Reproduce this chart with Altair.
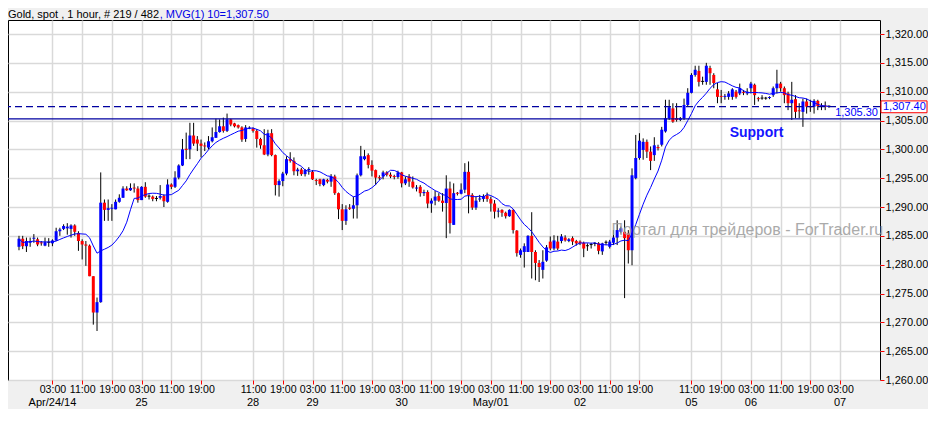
import altair as alt
import pandas as pd

# ---------------- data ----------------
FIRST_BAR = 2
opens = [1283.1,1284.5,1283.2,1283.8,1284.5,1284.4,1283.8,1283.3,1283.8,1283.7,
1284.2,1285.8,1286.2,1286.3,1286.2,1286.8,1285.5,1284.1,1283.5,1283.3,
1278.0,1271.7,1273.5,1290.75,1289.5,1289.7,1289.6,1290.9,1291.6,1293.2,
1292.9,1293.3,1293.2,1291.2,1293.5,1291.8,1291.8,1291.4,1291.6,1291.9,
1290.9,1293.9,1293.5,1295.1,1297.2,1300.1,1300.0,1302.4,1301.7,1301.0,
1300.6,1300.3,1301.4,1302.0,1303.0,1304.0,1303.2,1305.2,1304.5,1304.2,
1303.8,1301.8,1303.6,1303.6,1303.2,1301.8,1300.7,1299.1,1302.8,1299.0,
1293.8,1294.5,1295.8,1298.3,1298.0,1296.2,1296.5,1295.7,1296.4,1296.1,
1294.6,1294.8,1293.8,1294.7,1294.4,1295.3,1292.4,1289.6,1287.6,1289.9,
1289.7,1290.3,1295.5,1298.3,1299.0,1297.3,1296.4,1295.1,1295.3,1296.0,
1295.6,1295.3,1295.2,1296.0,1294.1,1295.3,1294.4,1293.2,1293.5,1292.4,
1292.6,1290.6,1291.1,1291.9,1291.1,1290.7,1293.2,1286.9,1292.4,1292.3,
1293.0,1296.1,1292.1,1289.9,1291.3,1291.4,1292.0,1291.4,1290.6,1289.2,
1289.5,1289.0,1288.4,1289.5,1285.9,1281.7,1282.2,1282.2,1285.0,1282.2,
1280.3,1279.1,1280.7,1284.0,1282.8,1284.0,1284.1,1284.7,1284.1,1284.6,
1284.1,1284.0,1283.8,1283.2,1283.4,1283.6,1283.7,1282.3,1283.8,1283.1,
1283.8,1284.7,1285.7,1285.7,1285.4,1282.5,1295.0,1298.5,1299.9,1301.3,
1299.6,1299.0,1300.4,1300.8,1303.1,1305.4,1307.1,1305.4,1305.1,1305.4,
1307.7,1309.8,1312.9,1313.6,1311.7,1311.7,1314.1,1312.9,1310.4,1309.2,
1309.1,1309.1,1309.1,1310.0,1309.7,1309.9,1309.7,1310.6,1311.2,1308.8,
1308.8,1308.8,1308.9,1309.4,1310.6,1311.4,1310.6,1309.7,1308.0,1308.7,
1306.7,1306.5,1308.3,1307.4,1307.4,1308.4,1307.5,1307.5,1307.4]
highs = [1285.0,1285.0,1284.7,1284.7,1285.3,1284.7,1284.1,1284.7,1284.6,1284.4,
1286.4,1286.4,1287.0,1287.2,1287.0,1287.0,1285.8,1284.4,1284.1,1283.5,
1278.0,1274.3,1296.0,1291.3,1291.3,1290.5,1291.3,1292.2,1293.6,1293.6,
1294.1,1294.1,1293.6,1293.6,1294.3,1292.2,1292.0,1291.9,1293.8,1292.2,
1294.8,1294.1,1296.2,1297.4,1301.8,1302.9,1304.6,1304.6,1302.3,1301.7,
1301.2,1302.3,1303.8,1305.3,1305.2,1305.5,1306.2,1305.3,1304.6,1304.3,
1304.0,1304.2,1304.0,1303.8,1303.5,1302.0,1303.5,1303.4,1303.5,1299.1,
1294.8,1296.1,1298.8,1299.5,1298.6,1296.8,1296.8,1296.6,1296.9,1296.4,
1294.9,1294.9,1294.9,1294.9,1295.7,1295.6,1292.5,1290.5,1290.3,1290.5,
1291.8,1295.8,1300.6,1299.9,1299.3,1298.1,1296.5,1295.5,1296.3,1296.2,
1296.0,1295.6,1296.3,1296.1,1295.3,1295.7,1295.3,1293.8,1293.8,1293.0,
1292.9,1291.5,1292.8,1292.4,1292.4,1295.5,1294.4,1294.1,1292.6,1294.1,
1297.6,1297.9,1292.4,1291.8,1292.1,1292.2,1292.5,1291.8,1291.2,1289.8,
1289.6,1289.2,1289.6,1289.6,1286.0,1282.8,1283.7,1285.1,1289.1,1282.5,
1280.8,1282.5,1283.4,1284.9,1285.1,1285.0,1285.3,1285.1,1284.6,1284.9,
1284.3,1284.2,1284.0,1283.7,1283.8,1283.9,1283.9,1283.8,1284.2,1284.3,
1286.0,1287.7,1286.6,1287.7,1286.0,1296.7,1302.5,1302.8,1301.9,1301.7,
1300.5,1302.1,1300.8,1303.9,1308.6,1308.6,1308.0,1308.0,1305.6,1308.8,
1310.6,1313.2,1314.5,1314.5,1312.6,1315.0,1314.5,1313.2,1311.5,1310.3,
1309.6,1310.1,1310.6,1310.3,1311.4,1310.3,1310.6,1311.7,1311.4,1309.1,
1309.4,1309.1,1309.2,1310.9,1313.8,1311.7,1310.9,1310.0,1311.7,1309.4,
1308.0,1308.8,1308.8,1308.6,1308.7,1308.6,1308.0,1308.3,1307.6]
lows = [1282.5,1282.7,1282.2,1283.1,1283.8,1283.2,1283.3,1283.2,1283.1,1283.2,
1284.1,1285.0,1286.0,1285.2,1284.7,1285.0,1282.4,1280.9,1279.8,1278.0,
1269.6,1268.5,1273.4,1287.6,1287.6,1287.6,1289.6,1290.75,1291.6,1292.8,
1292.8,1292.5,1290.75,1291.2,1291.6,1291.3,1291.0,1291.0,1291.3,1290.0,
1290.75,1293.1,1293.3,1294.8,1297.1,1298.3,1298.3,1300.6,1299.7,1298.6,
1299.7,1300.0,1301.2,1302.0,1302.9,1302.9,1303.0,1304.0,1303.8,1303.6,
1301.3,1301.3,1303.5,1302.9,1300.3,1300.1,1299.0,1298.8,1298.8,1292.0,
1291.8,1293.6,1295.5,1297.7,1295.5,1295.4,1295.4,1295.3,1295.6,1294.7,
1293.8,1293.6,1293.6,1294.1,1293.5,1292.1,1287.9,1286.0,1286.9,1289.5,
1288.0,1288.0,1295.3,1298.1,1296.7,1295.3,1293.8,1294.7,1294.8,1295.3,
1295.0,1294.8,1294.9,1293.4,1293.8,1293.5,1293.2,1292.7,1291.8,1291.9,
1289.8,1289.0,1290.3,1290.9,1289.2,1284.6,1285.4,1286.9,1292.0,1292.2,
1292.4,1288.9,1289.5,1289.5,1290.9,1290.9,1290.9,1289.2,1288.0,1288.2,
1288.3,1288.0,1288.3,1285.4,1281.4,1281.2,1279.5,1282.2,1277.6,1277.3,
1277.0,1277.6,1280.5,1282.5,1282.5,1282.5,1283.7,1284.0,1283.9,1283.4,
1283.3,1283.4,1281.3,1282.4,1282.8,1283.2,1281.8,1281.7,1283.4,1282.8,
1283.4,1283.4,1285.4,1274.2,1280.2,1279.9,1294.8,1298.2,1298.2,1298.5,
1296.4,1298.0,1299.8,1300.5,1302.9,1305.1,1304.6,1304.8,1304.9,1305.1,
1307.5,1309.7,1312.6,1310.9,1311.2,1311.2,1311.2,1310.6,1308.0,1308.0,
1308.6,1308.6,1308.6,1308.8,1309.4,1309.4,1309.4,1309.7,1307.7,1308.3,
1308.6,1308.6,1308.7,1309.1,1309.7,1310.0,1308.0,1306.8,1305.1,1305.4,
1305.4,1303.9,1306.2,1306.5,1306.2,1306.8,1306.8,1306.8,1307.2]
closes = [1284.5,1283.2,1284.1,1284.1,1284.6,1283.5,1283.7,1283.9,1283.8,1284.2,
1285.8,1286.1,1286.7,1286.6,1286.8,1285.7,1284.1,1283.5,1283.3,1278.0,
1271.7,1273.5,1290.75,1289.5,1289.8,1289.8,1290.9,1291.6,1293.2,1292.9,
1293.3,1293.2,1291.2,1293.5,1291.8,1291.8,1291.4,1291.4,1291.9,1291.0,
1293.9,1293.5,1295.1,1297.2,1300.0,1299.9,1302.4,1301.0,1301.0,1300.6,
1300.5,1301.4,1302.1,1303.0,1304.0,1303.2,1305.2,1304.3,1304.0,1303.8,
1301.7,1303.8,1303.7,1303.2,1301.8,1300.7,1299.1,1302.8,1299.0,1293.8,
1294.5,1295.8,1298.3,1298.0,1296.2,1296.5,1295.7,1296.4,1296.6,1294.8,
1294.5,1294.0,1294.8,1294.4,1295.3,1292.4,1289.6,1287.6,1289.6,1289.7,
1290.3,1295.5,1298.8,1298.8,1297.3,1296.3,1295.1,1295.0,1296.0,1295.6,
1295.3,1295.2,1296.0,1294.1,1294.8,1294.4,1293.4,1293.3,1292.4,1292.6,
1290.6,1291.1,1291.8,1291.1,1290.7,1293.2,1287.2,1292.4,1292.3,1293.0,
1296.1,1292.1,1289.9,1291.1,1291.4,1291.9,1291.4,1290.6,1289.2,1289.3,
1289.0,1288.4,1289.5,1286.0,1282.0,1282.5,1283.2,1285.0,1282.2,1280.3,
1279.6,1280.5,1283.0,1282.8,1284.2,1282.8,1284.9,1284.2,1284.4,1284.0,
1283.7,1283.7,1282.8,1283.2,1283.4,1283.6,1282.4,1283.7,1283.8,1284.0,
1284.7,1286.0,1286.3,1284.6,1282.5,1295.5,1298.5,1301.5,1301.3,1299.6,
1298.0,1300.7,1300.2,1303.4,1305.4,1307.3,1304.8,1305.1,1305.4,1307.7,
1309.8,1312.9,1313.8,1311.7,1311.7,1314.5,1313.2,1311.5,1309.1,1309.1,
1309.2,1309.7,1310.4,1309.1,1310.6,1309.8,1310.0,1311.4,1309.4,1308.7,
1308.8,1308.8,1309.0,1310.6,1311.4,1310.6,1309.4,1308.0,1308.6,1306.5,
1306.6,1308.3,1307.4,1307.3,1308.4,1307.5,1307.4,1307.4,1307.4]

tick_bars = [11, 19, 27, 35, 43, 51, 65, 73, 81, 89, 97, 105, 113, 121, 129,
             137, 145, 153, 161, 169, 183, 191, 199, 207, 215, 223]
tick_times = ["03:00", "11:00", "19:00", "03:00", "11:00", "19:00", "11:00", "19:00",
              "03:00", "11:00", "19:00", "03:00", "11:00", "19:00", "03:00", "11:00",
              "19:00", "03:00", "11:00", "19:00", "11:00", "19:00", "03:00", "11:00",
              "19:00", "03:00"]
date_bars = [11, 35, 65, 81, 105, 129, 153, 183, 199, 223]
date_labels = ["Apr/24/14", "25", "28", "29", "30", "May/01", "02", "05", "06", "07"]
price_ticks = [1260, 1265, 1270, 1275, 1280, 1285, 1290, 1295, 1300, 1305, 1310, 1315, 1320]

support_price = 1305.30
last_price = 1307.40

# ---------------- layout ----------------
W, H = 872, 360
FONT = "Liberation Sans"
BLUE = "#0000ff"
RED = "#ff0000"
NAVY = "#0000a0"
GRID = "#d9d9d9"

n = len(opens)
df = pd.DataFrame({
    "bar": list(range(FIRST_BAR, FIRST_BAR + n)),
    "open": opens, "high": highs, "low": lows, "close": closes,
})

xscale = alt.Scale(domain=[0.386, 232.4], nice=False, zero=False)
yscale = alt.Scale(domain=[1260.0, 1322.43], nice=False, zero=False)

times_js = "[" + ",".join("'%s'" % t for t in tick_times) + "]"
bars_js = "[" + ",".join(str(b) for b in tick_bars) + "]"

x_axis = alt.Axis(values=tick_bars, labelExpr=f"{times_js}[indexof({bars_js}, datum.value)]",
                  orient="bottom", grid=True, gridColor=GRID, gridWidth=1.5,
                  tickColor=RED, tickSize=4, tickWidth=1, domain=False,
                  labelFont=FONT, labelFontSize=10.6, labelColor="#000000",
                  labelPadding=0, labelOverlap=False, labelFlush=False, title=None)
y_axis = alt.Axis(values=price_ticks, format=",.2f", orient="right", grid=True,
                  gridColor=GRID, gridWidth=1.5, tickColor=RED, tickSize=4, tickWidth=1,
                  domain=False, labelFont=FONT, labelFontSize=11, labelColor="#000000",
                  labelPadding=1, labelOverlap=False, labelFlush=False, title=None)

X = alt.X("bar:Q", scale=xscale, axis=x_axis)
Y_low = alt.Y("low:Q", scale=yscale, axis=y_axis)

base = alt.Chart(df)

wicks = base.mark_rule(color="#000000", strokeWidth=1).encode(
    x=X, y=Y_low, y2="high:Q")

bodies = base.transform_calculate(
    dir="datum.close > datum.open + 0.05 ? 'up' : (datum.close < datum.open - 0.05 ? 'down' : 'flat')",
    btop="max(datum.open, datum.close, min(datum.open, datum.close) + 0.17)",
    bbot="min(datum.open, datum.close)",
).mark_bar(size=3).encode(
    x=X,
    y=alt.Y("bbot:Q", scale=yscale, axis=y_axis),
    y2="btop:Q",
    color=alt.Color("dir:N", scale=alt.Scale(domain=["up", "down", "flat"],
                                              range=[BLUE, RED, "#000000"]), legend=None),
)

ma = base.transform_window(
    ma="mean(close)", frame=[-9, 0], sort=[alt.SortField("bar")]
).mark_line(color=BLUE, strokeWidth=1).encode(
    x=X, y=alt.Y("ma:Q", scale=yscale, axis=y_axis))

lines_df = pd.DataFrame({"price": [support_price, last_price], "kind": ["support", "last"]})
support_rule = alt.Chart(lines_df).transform_filter("datum.kind == 'support'").mark_rule(
    color=NAVY, strokeWidth=1.2).encode(y=alt.Y("price:Q", scale=yscale, axis=y_axis))
last_rule = alt.Chart(lines_df).transform_filter("datum.kind == 'last'").mark_rule(
    color=NAVY, strokeWidth=1.2, strokeDash=[7, 4]).encode(
    y=alt.Y("price:Q", scale=yscale, axis=y_axis))

support_lbl = alt.Chart(lines_df).transform_filter("datum.kind == 'support'").mark_text(
    font=FONT, fontSize=11, color=BLUE, align="right", baseline="middle", dy=-6
).encode(x=alt.value(W - 2), y=alt.Y("price:Q", scale=yscale, axis=y_axis),
         text=alt.Text("price:Q", format=",.2f"))

last_box = alt.Chart(lines_df).transform_filter("datum.kind == 'last'").transform_calculate(
    top="datum.price + 1.0", bot="datum.price - 1.05"
).mark_rect(fill="#ffffff", stroke=RED, strokeWidth=1).encode(
    x=alt.value(W + 1), x2=alt.value(W + 47),
    y=alt.Y("top:Q", scale=yscale, axis=y_axis), y2="bot:Q")
last_lbl = alt.Chart(lines_df).transform_filter("datum.kind == 'last'").mark_text(
    font=FONT, fontSize=11, color=BLUE, align="left", baseline="middle", dy=0
).encode(x=alt.value(W + 3), y=alt.Y("price:Q", scale=yscale, axis=y_axis),
         text=alt.Text("price:Q", format=",.2f"))

support_txt = alt.Chart(pd.DataFrame({"bar": [200.5], "price": [1302.8], "t": ["Support"]})).mark_text(
    font=FONT, fontSize=14, fontWeight="bold", color="#1414ff", align="center", baseline="middle"
).encode(x=X, y=alt.Y("price:Q", scale=yscale, axis=y_axis), text="t:N")

wm = alt.Chart(pd.DataFrame({"bar": [161.5], "price": [1286.0],
                             "t": ["Портал для трейдеров - ForTrader.ru"]})).mark_text(
    font=FONT, fontSize=16, color="#9c9c9c", opacity=0.85, align="left", baseline="middle"
).encode(x=X, y=alt.Y("price:Q", scale=yscale, axis=y_axis), text="t:N")

dates = alt.Chart(pd.DataFrame({"bar": date_bars, "label": date_labels})).mark_text(
    font=FONT, fontSize=11, color="#000000", align="center", baseline="middle"
).encode(x=X, y=alt.value(H + 23), text="label:N")

title_df = pd.DataFrame({"t1": ["Gold, spot , 1 hour, # 219 / 482"],
                         "t2": [", MVG(1) 10=1,307.50"]})
title1 = alt.Chart(title_df).mark_text(font=FONT, fontSize=11, color="#000000",
                                       align="left", baseline="alphabetic").encode(
    x=alt.value(0), y=alt.value(-2), text="t1:N")
title2 = alt.Chart(title_df).mark_text(font=FONT, fontSize=11, color="#0000e6",
                                       align="left", baseline="alphabetic").encode(
    x=alt.value(151.7), y=alt.value(-2), text="t2:N")

chart = alt.layer(
    wicks, bodies, ma, support_rule, last_rule, support_lbl, support_txt, wm,
    last_box, last_lbl, dates, title1, title2
).properties(
    width=W, height=H,
    autosize=alt.AutoSizeParams(type="none"),
    padding={"left": 0, "top": 12, "right": 48, "bottom": 29},
    background="#f0f0f0",
).configure_view(
    fill="#ffffff", stroke="#000000", strokeWidth=1
)

chart.save("out.html", embed_options={"renderer": "svg", "actions": False})
